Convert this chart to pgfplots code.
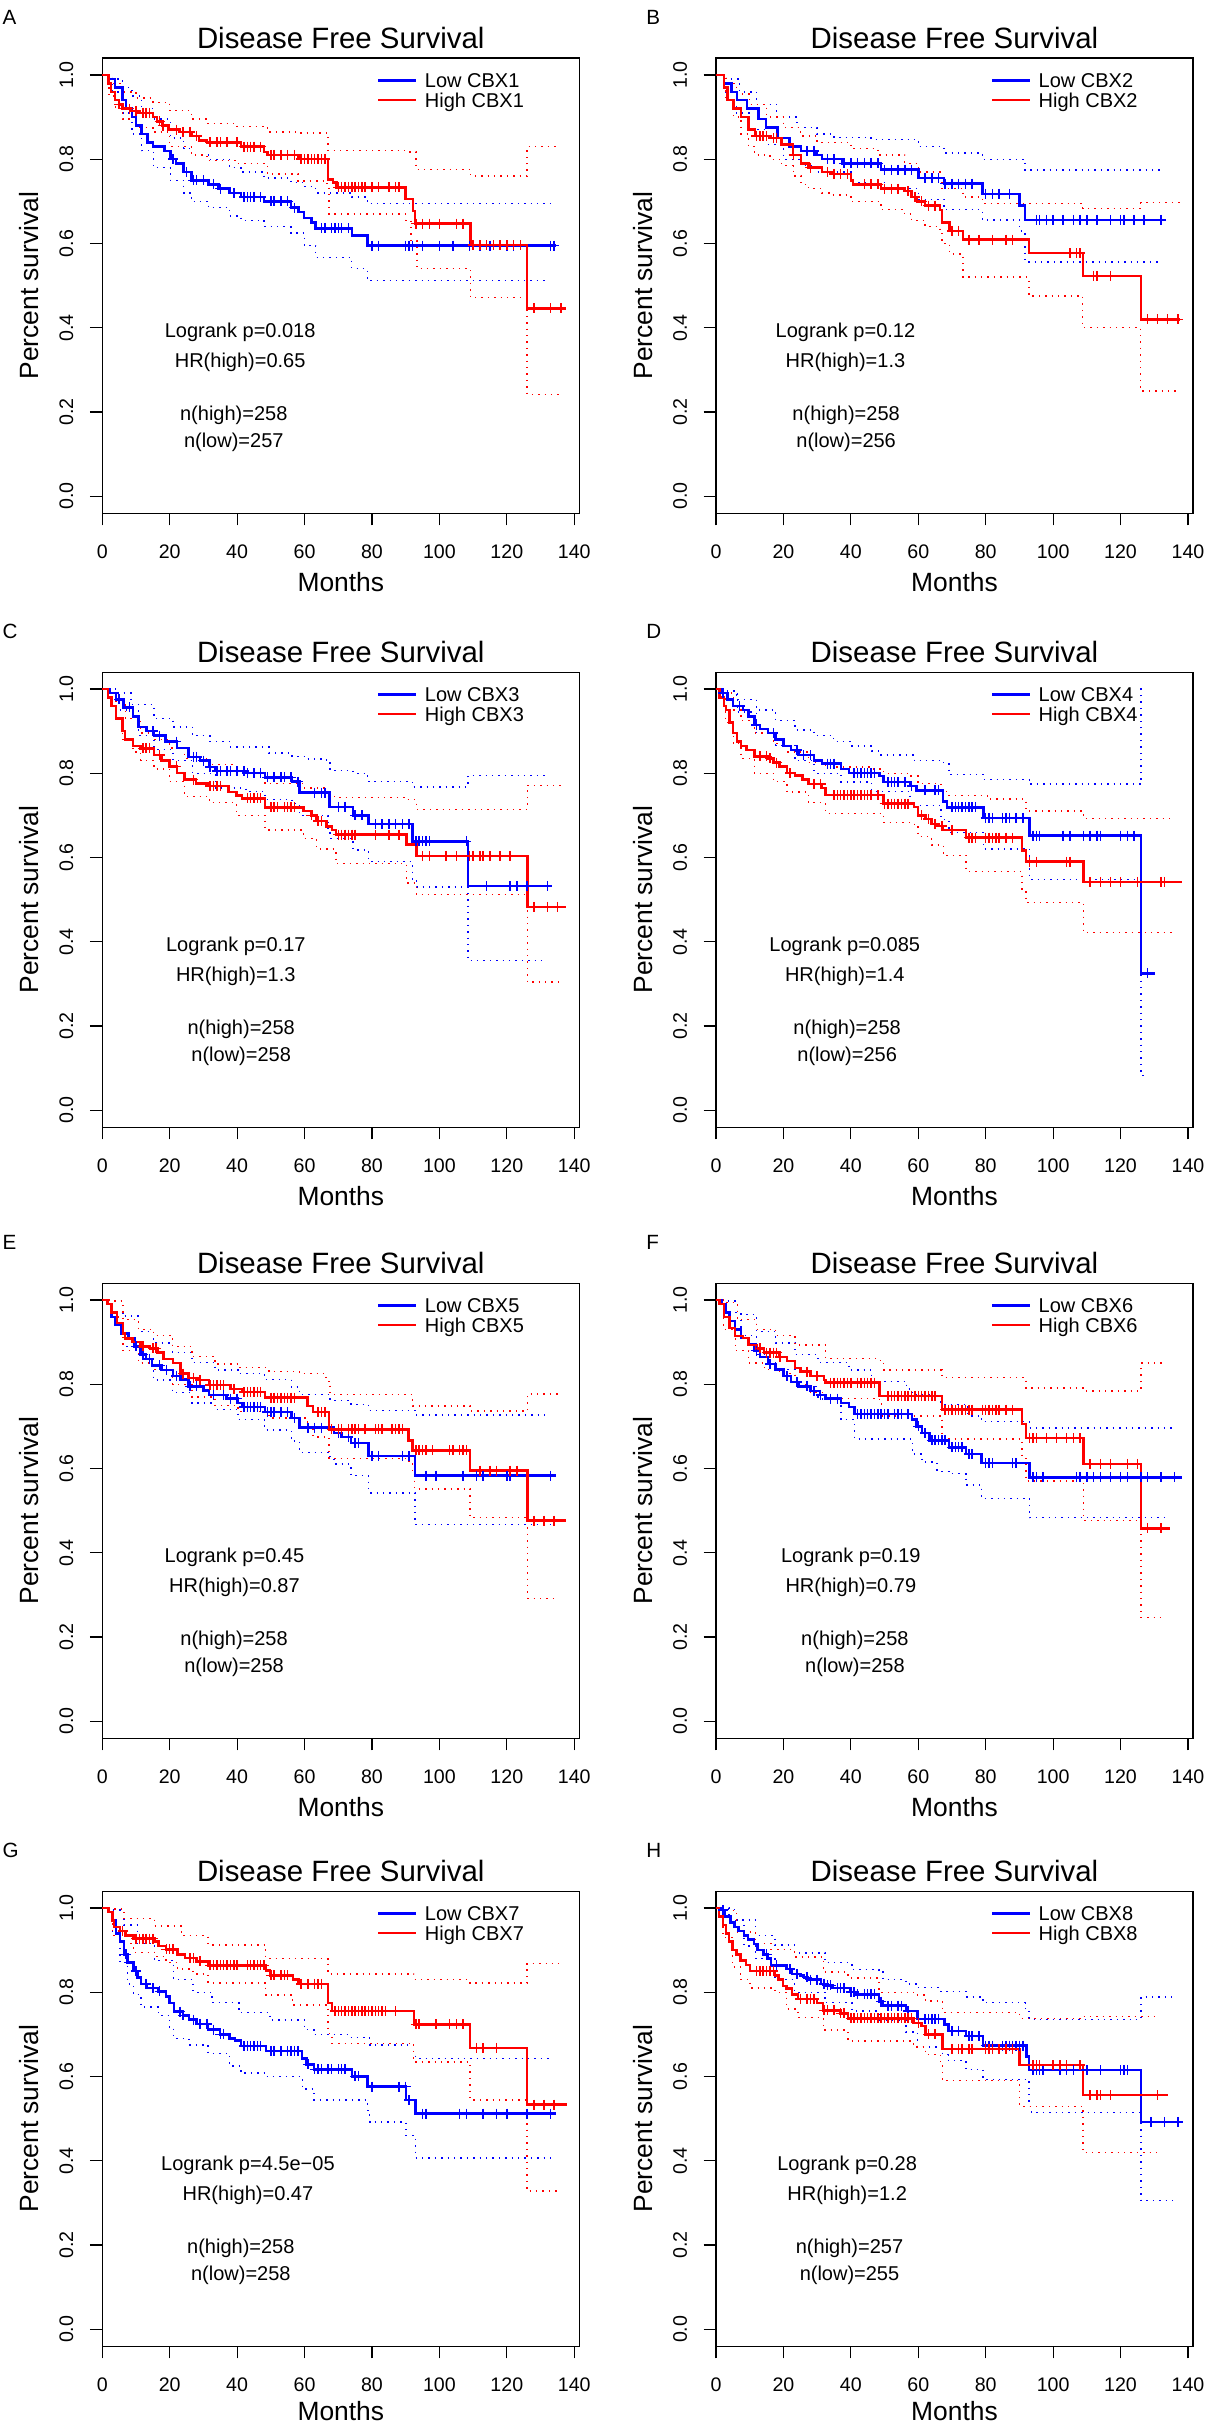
\documentclass[border=0pt]{standalone}
\usepackage{fontspec}
\setmainfont{Liberation Sans}
\usepackage{pgfplots}
\pgfplotsset{compat=1.18}
\newcommand{\fTick}{\fontsize{9.8}{11}\selectfont}
\newcommand{\fLab}{\fontsize{13.2}{15}\selectfont}
\newcommand{\fTitle}{\fontsize{14.7}{17}\selectfont}
\newcommand{\fTxt}{\fontsize{10}{12}\selectfont}
\newcommand{\fLet}{\fontsize{10.3}{12}\selectfont}
\pgfplotsset{
 km/.style={
  scale only axis, width=238.5pt, height=227.5pt,
  xmin=0, xmax=141.5, ymin=-0.04, ymax=1.04,
  anchor=north west, clip=false,
  axis line style={line width=0.6pt, black},
  xtick={0,20,40,60,80,100,120,140},
  xticklabels={0,20,40,60,80,100,120,140},
  ytick={0,0.2,0.4,0.6,0.8,1},
  yticklabels={0.0,0.2,0.4,0.6,0.8,1.0},
  tick pos=left, tick align=outside, major tick length=6.15pt,
  every tick/.style={black, line width=0.6pt},
  /pgf/number format/assume math mode=true,
  xticklabel style={font=\fTick, anchor=base, inner sep=0pt, yshift=-16.4pt},
  yticklabel style={font=\fTick, xshift=-8.1pt, rotate=90, anchor=south, inner sep=0pt},
  xlabel={Months}, ylabel={Percent survival},
  every axis x label/.style={at={(rel axis cs:0.5,0)}, anchor=base, yshift=-39.4pt, font=\fLab, inner sep=0pt},
  every axis y label/.style={at={(rel axis cs:0,0.5)}, xshift=-31.9pt, rotate=90, anchor=base, font=\fLab, inner sep=0pt},
 },
 bottomrow/.style={xlabel style={yshift=2.2pt}},
 cb/.style={blue, line width=1.25pt, const plot, mark=none},
 cr/.style={red, line width=1.25pt, const plot, mark=none},
 ciB/.style={blue, line width=0.7pt, const plot, mark=none, dash pattern=on 0.7pt off 2.5pt},
 ciR/.style={red, line width=0.7pt, const plot, mark=none, dash pattern=on 0.7pt off 2.5pt},
 cenB/.style={blue, only marks, mark=+, mark size=2.5pt, mark options={line width=0.75pt, solid}},
 cenR/.style={red, only marks, mark=+, mark size=2.5pt, mark options={line width=0.75pt, solid}},
}
\newcommand{\kmdeco}[9]{%
 \node[font=\fTitle, anchor=base, inner sep=0pt, yshift=4.8pt] at (rel axis cs:0.5,1) {Disease Free Survival};
 \node[font=\fLet, anchor=north west, inner sep=0pt, xshift=#2, yshift=24pt] at (rel axis cs:0,1) {#1};
 \draw[blue, line width=1.25pt] (axis cs:81.9,0.987) -- (axis cs:93.1,0.987);
 \draw[red, line width=1.25pt] (axis cs:81.9,0.941) -- (axis cs:93.1,0.941);
 \node[font=\fTxt, anchor=base west, inner sep=0pt, yshift=-3.6pt] at (axis cs:95.6,0.987) {Low #3};
 \node[font=\fTxt, anchor=base west, inner sep=0pt, yshift=-3.6pt] at (axis cs:95.6,0.941) {High #3};
 \node[font=\fTxt, anchor=base, inner sep=0pt, yshift=-3.6pt] at (axis cs:#8,0.393) {Logrank p=#4};
 \node[font=\fTxt, anchor=base, inner sep=0pt, yshift=-3.6pt] at (axis cs:#8,0.322) {HR(high)=#5};
 \node[font=\fTxt, anchor=base, inner sep=0pt, yshift=-3.6pt] at (axis cs:#9,0.196) {n(high)=#6};
 \node[font=\fTxt, anchor=base, inner sep=0pt, yshift=-3.6pt] at (axis cs:#9,0.133) {n(low)=#7};
}
\begin{document}
\begin{tikzpicture}
\useasboundingbox (0,0) rectangle (602.5pt,-1212pt);
% ---------------- A ----------------
\begin{axis}[km, at={(51.15pt,-29.05pt)}]
\addplot[ciB] coordinates {(0,1)(3,0.99)(6,0.97)(8.8,0.95)(11.7,0.92)(15.1,0.895)(20.2,0.85)(24.1,0.825)(26.4,0.81)(31.5,0.80)(37.8,0.78)(41.2,0.77)(48,0.755)(56,0.745)(59.9,0.735)(63.3,0.72)(74,0.71)(78.6,0.695)(133,0.695)};
\addplot[ciB] coordinates {(0,1)(3,0.96)(6,0.91)(8.8,0.86)(11.7,0.82)(15.1,0.78)(20.2,0.75)(24.1,0.72)(26.4,0.70)(31.5,0.685)(37.8,0.665)(41.2,0.655)(48,0.64)(56,0.625)(59.9,0.595)(63.3,0.567)(74,0.54)(78.6,0.512)(131.9,0.512)};
\addplot[ciR] coordinates {(0,1)(3,0.98)(6,0.96)(10,0.945)(15,0.935)(20,0.915)(26.4,0.895)(31,0.885)(40,0.878)(49,0.865)(58,0.862)(67,0.82)(90,0.817)(93,0.776)(109.2,0.76)(126,0.83)(134.7,0.83)};
\addplot[ciR] coordinates {(0,1)(2,0.95)(4,0.92)(6,0.895)(10,0.875)(15,0.865)(20,0.83)(26.4,0.81)(31,0.797)(40,0.79)(49,0.765)(58,0.748)(66.7,0.742)(67.2,0.67)(90,0.655)(91.6,0.607)(93.3,0.54)(109.2,0.472)(126,0.242)(135.8,0.242)};
\addplot[cb] coordinates {(0,1)(1.8,0.99)(3.7,0.97)(6,0.94)(7.1,0.92)(8.8,0.90)(10,0.88)(11.7,0.86)(13.4,0.84)(15.1,0.83)(18.5,0.82)(20.2,0.80)(21.9,0.79)(24.1,0.77)(26.4,0.75)(31.5,0.74)(34.4,0.73)(37.8,0.72)(41.2,0.71)(48,0.70)(56,0.685)(58.2,0.675)(59.9,0.66)(62.1,0.65)(63.3,0.636)(74,0.619)(78.6,0.595)(134.7,0.595)};
\addplot[cenB] coordinates {(21,0.80)(25,0.77)(27,0.75)(28,0.75)(30,0.75)(33,0.74)(35,0.73)(39,0.72)(42,0.71)(43,0.71)(44,0.71)(45,0.71)(47,0.71)(50,0.70)(51,0.70)(53,0.70)(55,0.70)(57,0.685)(65,0.636)(66,0.636)(68,0.636)(69,0.636)(70,0.636)(71,0.636)(73,0.636)(80,0.595)(82,0.595)(90,0.595)(91,0.595)(92,0.595)(95,0.595)(100,0.595)(104,0.595)(109,0.595)(112,0.595)(115,0.595)(120,0.595)(122,0.595)(133,0.595)(134,0.595)};
\addplot[cr] coordinates {(0,1)(1.8,0.98)(2.6,0.96)(3.7,0.94)(4.9,0.93)(6,0.92)(8.3,0.915)(10.5,0.91)(15.1,0.90)(16.2,0.89)(17.9,0.88)(19.6,0.87)(23,0.865)(26.4,0.855)(28.7,0.845)(31,0.84)(41.2,0.83)(48,0.817)(49,0.81)(58.2,0.80)(67,0.752)(68.4,0.745)(69.5,0.733)(90,0.705)(92.2,0.677)(92.7,0.647)(109.2,0.596)(126,0.446)(137.5,0.446)};
\addplot[cenR] coordinates {(5,0.93)(8,0.92)(10,0.915)(12,0.91)(13,0.91)(14,0.91)(17,0.89)(18,0.88)(22,0.87)(24,0.865)(26,0.865)(28,0.855)(32,0.84)(34,0.84)(35,0.84)(37,0.84)(40,0.84)(42,0.83)(43,0.83)(44,0.83)(45,0.83)(47,0.83)(50,0.81)(51,0.81)(53,0.81)(55,0.81)(57,0.81)(59,0.80)(60,0.80)(61,0.80)(62,0.80)(63,0.80)(64,0.80)(65,0.80)(66,0.80)(70,0.733)(71,0.733)(72,0.733)(73,0.733)(74,0.733)(75,0.733)(76,0.733)(77,0.733)(78,0.733)(80,0.733)(82,0.733)(85,0.733)(87,0.733)(88,0.733)(93,0.647)(95,0.647)(97,0.647)(100,0.647)(105,0.647)(107,0.647)(110,0.596)(112,0.596)(114,0.596)(116,0.596)(118,0.596)(120,0.596)(122,0.596)(124,0.596)(128,0.446)(133,0.446)(136,0.446)};
\kmdeco{A}{-50pt}{CBX1}{0.018}{0.65}{258}{257}{40.9}{39}
\end{axis}
% ---------------- B ----------------
\begin{axis}[km, at={(358pt,-29.05pt)}]
\addplot[ciB] coordinates {(0,1)(3,0.99)(7,0.96)(12,0.93)(18,0.90)(24,0.875)(30,0.86)(35,0.852)(46,0.847)(60,0.83)(67.6,0.815)(79,0.80)(91.6,0.774)(132.3,0.774)};
\addplot[ciB] coordinates {(0,1)(3,0.96)(6,0.91)(10,0.87)(15,0.835)(20,0.80)(25,0.785)(30,0.77)(40,0.745)(50,0.73)(60,0.705)(67.6,0.68)(79,0.656)(90,0.63)(91.6,0.556)(132.3,0.556)};
\addplot[ciR] coordinates {(0,1)(3,0.98)(6,0.955)(10,0.93)(15,0.90)(20,0.875)(25,0.855)(30,0.84)(40,0.825)(48,0.81)(56,0.79)(60,0.77)(66.4,0.75)(67,0.73)(73.3,0.71)(79,0.695)(108.8,0.683)(126,0.697)(137.5,0.697)};
\addplot[ciR] coordinates {(0,1)(3,0.94)(5.2,0.90)(7.4,0.86)(9.7,0.83)(11.5,0.81)(16,0.80)(19.5,0.785)(22.9,0.76)(25.2,0.74)(27.5,0.73)(31.5,0.72)(34.4,0.715)(40,0.70)(49,0.68)(56,0.67)(58,0.655)(62,0.64)(66.4,0.625)(67,0.60)(69.3,0.575)(73.3,0.52)(92.8,0.475)(108.8,0.40)(126,0.25)(137,0.25)};
\addplot[cb] coordinates {(0,1)(2.3,0.98)(4.6,0.96)(6.3,0.94)(9.2,0.92)(12.6,0.895)(14.9,0.875)(18.3,0.85)(21.8,0.83)(25.2,0.82)(29.8,0.81)(31.5,0.80)(37.5,0.79)(49,0.775)(60,0.755)(67.6,0.742)(79,0.718)(90,0.69)(91.6,0.656)(132.3,0.656)};
\addplot[cenB] coordinates {(27,0.82)(29,0.82)(33,0.80)(35,0.80)(38,0.79)(40,0.79)(42,0.79)(44,0.79)(46,0.79)(48,0.79)(50,0.775)(52,0.775)(54,0.775)(56,0.775)(58,0.775)(62,0.755)(64,0.755)(66,0.755)(68,0.742)(70,0.742)(72,0.742)(74,0.742)(76,0.742)(80,0.718)(82,0.718)(84,0.718)(87,0.718)(95,0.656)(96,0.656)(98,0.656)(100,0.656)(103,0.656)(106,0.656)(108,0.656)(110,0.656)(113,0.656)(117,0.656)(120,0.656)(121,0.656)(124,0.656)(127,0.656)(132,0.656)};
\addplot[cr] coordinates {(0,1)(2.3,0.97)(3.4,0.94)(5.2,0.92)(7.4,0.90)(9.7,0.87)(11.5,0.855)(16,0.85)(19.5,0.835)(22.9,0.81)(25.2,0.79)(27.5,0.78)(31.5,0.77)(34.4,0.765)(40,0.75)(40.7,0.74)(49,0.73)(56,0.725)(58,0.71)(59.6,0.70)(62,0.69)(66.4,0.68)(67,0.65)(69.3,0.63)(73.3,0.609)(92.8,0.577)(108.8,0.523)(126,0.42)(137.5,0.42)};
\addplot[cenR] coordinates {(12,0.855)(13,0.855)(14,0.855)(15,0.855)(17,0.85)(18,0.85)(23,0.81)(28,0.78)(33,0.77)(35,0.765)(37,0.765)(39,0.765)(44,0.74)(46,0.74)(48,0.74)(50,0.73)(52,0.73)(54,0.73)(57,0.725)(59,0.71)(61,0.70)(63,0.69)(65,0.69)(70,0.63)(72,0.63)(75,0.609)(78,0.609)(82,0.609)(86,0.609)(88,0.609)(105,0.577)(107,0.577)(108,0.577)(112,0.523)(113,0.523)(117,0.523)(128,0.42)(131,0.42)(134,0.42)(137,0.42)};
\kmdeco{B}{-35pt}{CBX2}{0.12}{1.3}{258}{256}{38.4}{38.6}
\end{axis}
% ---------------- C ----------------
\begin{axis}[km, at={(51.15pt,-336.05pt)}]
\addplot[ciB] coordinates {(0,1)(4,0.99)(8.5,0.963)(15.3,0.93)(21,0.91)(26.7,0.889)(32,0.875)(38,0.862)(49.4,0.848)(56.3,0.84)(60.8,0.834)(66.5,0.825)(67.6,0.806)(74.4,0.80)(78.4,0.793)(79,0.78)(92,0.767)(108.5,0.794)(131.3,0.794)};
\addplot[ciB] coordinates {(0,1)(4,0.95)(10.8,0.89)(15.3,0.857)(21,0.83)(26.7,0.80)(33.5,0.765)(42.6,0.756)(48.3,0.737)(56.3,0.728)(58.5,0.70)(67,0.664)(67.6,0.645)(74.4,0.618)(79,0.59)(92,0.548)(93.2,0.53)(108.5,0.355)(131.8,0.355)};
\addplot[ciR] coordinates {(0,1)(2.8,0.99)(4,0.97)(6.8,0.93)(11.4,0.895)(15.3,0.88)(19.9,0.86)(24.4,0.835)(31.8,0.82)(39.8,0.80)(48.3,0.775)(59.7,0.765)(66.5,0.745)(69.3,0.742)(90.3,0.737)(93.2,0.714)(126.1,0.771)(136.4,0.771)};
\addplot[ciR] coordinates {(0,1)(2.8,0.955)(4,0.93)(6,0.88)(9.1,0.85)(11.4,0.83)(15.3,0.81)(19.9,0.78)(24.4,0.745)(31.8,0.73)(39.8,0.70)(48.3,0.665)(59.7,0.645)(63.6,0.62)(69.3,0.585)(90.3,0.539)(93.2,0.512)(126.1,0.304)(135.2,0.304)};
\addplot[cb] coordinates {(0,1)(2.3,0.99)(4,0.975)(6.3,0.956)(9.1,0.935)(10.8,0.91)(13.1,0.90)(15.3,0.889)(18.8,0.875)(22.2,0.86)(25.6,0.839)(29,0.83)(31.8,0.815)(33.5,0.805)(42.6,0.80)(48.3,0.79)(56.3,0.78)(58.5,0.754)(67.4,0.72)(74.4,0.70)(79,0.679)(92,0.638)(108.5,0.532)(133.5,0.532)};
\addplot[cenB] coordinates {(5,0.975)(8,0.956)(15,0.90)(17,0.889)(22,0.875)(27,0.839)(28,0.839)(30,0.83)(32,0.815)(34,0.805)(35,0.805)(37,0.805)(38,0.805)(40,0.805)(42,0.805)(43,0.80)(45,0.80)(47,0.80)(49,0.79)(51,0.79)(53,0.79)(54,0.79)(56,0.79)(58,0.78)(63,0.754)(65,0.754)(66,0.754)(70,0.72)(72,0.72)(75,0.70)(77,0.70)(81,0.679)(83,0.679)(85,0.679)(87,0.679)(89,0.679)(91,0.679)(93,0.638)(94,0.638)(95,0.638)(96,0.638)(97,0.638)(108,0.638)(114,0.532)(121,0.532)(123,0.532)(126,0.532)(132,0.532)};
\addplot[cr] coordinates {(0,1)(1.7,0.98)(2.8,0.96)(4,0.93)(6,0.90)(6.8,0.88)(9.1,0.865)(11.4,0.859)(15.3,0.843)(17.6,0.83)(19.9,0.816)(22.2,0.80)(24.4,0.785)(27.8,0.776)(31.8,0.77)(37.5,0.756)(39.8,0.747)(41.5,0.74)(48.3,0.719)(59.7,0.71)(62,0.70)(63.6,0.687)(66.5,0.673)(68.2,0.665)(69.3,0.654)(90.3,0.631)(93.2,0.604)(126.1,0.483)(137.5,0.483)};
\addplot[cenR] coordinates {(12,0.859)(13,0.859)(14,0.859)(17,0.843)(22,0.816)(27,0.785)(32,0.77)(33,0.77)(34,0.77)(35,0.77)(43,0.74)(44,0.74)(45,0.74)(46,0.74)(47,0.74)(50,0.719)(51,0.719)(52,0.719)(54,0.719)(55,0.719)(56,0.719)(57,0.719)(62,0.70)(64,0.687)(65,0.687)(70,0.654)(71,0.654)(72,0.654)(73,0.654)(74,0.654)(75,0.654)(81,0.654)(85,0.654)(88,0.654)(95,0.604)(97,0.604)(102,0.604)(105,0.604)(109,0.604)(110,0.604)(112,0.604)(113,0.604)(115,0.604)(118,0.604)(121,0.604)(128,0.483)(132,0.483)(135,0.483)};
\kmdeco{C}{-50pt}{CBX3}{0.17}{1.3}{258}{258}{39.6}{41.2}
\end{axis}
% ---------------- D ----------------
\begin{axis}[km, at={(358pt,-336.05pt)}]
\addplot[ciB] coordinates {(0,1)(2.9,0.995)(6,0.975)(12,0.95)(17.7,0.925)(23.4,0.903)(29.1,0.89)(34.8,0.876)(40,0.865)(46.2,0.853)(48.5,0.843)(58.8,0.83)(66.8,0.825)(69.1,0.797)(79.3,0.785)(93,0.774)(126.1,1.0)(127.3,1.0)};
\addplot[ciB] coordinates {(0,1)(1.7,0.99)(6.3,0.945)(12,0.894)(17.7,0.866)(23.4,0.83)(29.1,0.80)(37.1,0.779)(46.2,0.756)(57.6,0.724)(66.8,0.69)(69.1,0.66)(79.3,0.62)(93,0.548)(126.1,0.083)(127.9,0.083)};
\addplot[ciR] coordinates {(0,1)(2.9,0.99)(5.1,0.95)(7.4,0.925)(11.4,0.895)(17.1,0.87)(21.1,0.85)(27.4,0.825)(32.5,0.815)(46.2,0.81)(49.7,0.80)(57.6,0.793)(59.9,0.775)(66.8,0.756)(69.1,0.747)(80.5,0.739)(91.9,0.71)(109,0.693)(135.8,0.693)};
\addplot[ciR] coordinates {(0,1)(2.9,0.92)(5.1,0.87)(7.4,0.835)(11.4,0.80)(17.1,0.78)(21.1,0.755)(27.4,0.73)(32.5,0.705)(49.7,0.683)(58.8,0.672)(59.9,0.65)(63.9,0.63)(67.4,0.605)(74.2,0.567)(90.8,0.525)(91.9,0.493)(109,0.422)(135.3,0.422)};
\addplot[cb] coordinates {(0,1)(1.7,0.99)(3.4,0.975)(5.1,0.96)(8,0.95)(9.7,0.935)(11.4,0.915)(13.1,0.905)(15.4,0.895)(17.7,0.88)(20,0.865)(22.3,0.855)(24.5,0.843)(29.1,0.83)(31.4,0.823)(37.1,0.81)(39.4,0.80)(48.5,0.793)(49.7,0.779)(57.6,0.77)(59.4,0.759)(67.4,0.733)(68.5,0.719)(79.3,0.694)(93,0.652)(126.1,0.325)(130.1,0.325)};
\addplot[cenB] coordinates {(2,0.99)(7,0.96)(12,0.915)(17,0.895)(24,0.855)(26,0.843)(28,0.843)(33,0.823)(34,0.823)(35,0.823)(41,0.80)(42,0.80)(43,0.80)(44,0.80)(45,0.80)(46,0.80)(47,0.80)(51,0.779)(52,0.779)(53,0.779)(54,0.779)(56,0.779)(58,0.77)(62,0.759)(65,0.759)(66,0.759)(70,0.719)(71,0.719)(72,0.719)(73,0.719)(74,0.719)(75,0.719)(76,0.719)(77,0.719)(80,0.694)(81,0.694)(82,0.694)(85,0.694)(86,0.694)(87,0.694)(89,0.694)(91,0.694)(94,0.652)(95,0.652)(96,0.652)(103,0.652)(105,0.652)(109,0.652)(111,0.652)(113,0.652)(114,0.652)(120,0.652)(122,0.652)(124,0.652)(128,0.325)};
\addplot[cr] coordinates {(0,1)(1.1,0.98)(2.3,0.96)(2.9,0.95)(4,0.92)(5.1,0.895)(6.3,0.875)(7.4,0.865)(9.1,0.855)(11.4,0.84)(15.4,0.835)(17.1,0.825)(18.8,0.816)(21.1,0.80)(23.4,0.795)(25.7,0.785)(27.4,0.774)(31.4,0.765)(32.5,0.748)(49.7,0.728)(58.8,0.72)(59.9,0.70)(62.2,0.691)(63.9,0.68)(65.6,0.675)(67.4,0.665)(74.2,0.647)(90.8,0.616)(91.9,0.59)(109,0.542)(138.1,0.542)};
\addplot[cenR] coordinates {(13,0.84)(15,0.84)(16,0.835)(18,0.825)(22,0.80)(29,0.774)(31,0.774)(35,0.748)(36,0.748)(37,0.748)(38,0.748)(39,0.748)(40,0.748)(41,0.748)(42,0.748)(43,0.748)(44,0.748)(45,0.748)(46,0.748)(48,0.748)(50,0.728)(51,0.728)(52,0.728)(53,0.728)(54,0.728)(55,0.728)(56,0.728)(57,0.728)(61,0.70)(63,0.691)(65,0.68)(67,0.675)(70,0.665)(75,0.647)(76,0.647)(77,0.647)(80,0.647)(81,0.647)(82,0.647)(83,0.647)(84,0.647)(86,0.647)(88,0.647)(93,0.59)(95,0.59)(104,0.59)(105,0.59)(111,0.542)(114,0.542)(117,0.542)(120,0.542)(125,0.542)(132,0.542)(133,0.542)};
\kmdeco{D}{-35pt}{CBX4}{0.085}{1.4}{258}{256}{38.2}{38.9}
\end{axis}
% ---------------- E ----------------
\begin{axis}[km, at={(51.15pt,-641.55pt)}]
\addplot[ciB] coordinates {(0,1)(1.6,0.998)(6.1,0.962)(10.7,0.925)(15.2,0.898)(20.9,0.875)(26.6,0.852)(33.4,0.834)(40.3,0.825)(48.2,0.811)(56.1,0.793)(58.5,0.775)(67.6,0.761)(73.8,0.752)(79,0.738)(92.8,0.727)(131.3,0.727)};
\addplot[ciB] coordinates {(0,1)(2.7,0.97)(6.1,0.89)(10.7,0.85)(15.2,0.81)(20.9,0.78)(26.6,0.755)(33.4,0.74)(40.3,0.716)(48.2,0.691)(56.1,0.665)(58.5,0.638)(67.6,0.624)(68.7,0.611)(73.8,0.583)(79,0.542)(92.8,0.467)(133.6,0.467)};
\addplot[ciR] coordinates {(0,1)(1.6,0.998)(6.1,0.953)(10.7,0.93)(15.2,0.916)(20.9,0.889)(26.6,0.866)(33.4,0.848)(40.3,0.839)(49.4,0.83)(58.5,0.825)(66.4,0.807)(67.6,0.775)(92,0.748)(109.1,0.736)(126.2,0.777)(135.8,0.777)};
\addplot[ciR] coordinates {(0,1)(2.7,0.96)(6.1,0.88)(10.7,0.85)(15.2,0.835)(20.9,0.80)(26.6,0.77)(33.4,0.75)(40.3,0.735)(49.4,0.72)(60.8,0.697)(62.5,0.675)(67.3,0.624)(90.9,0.617)(92,0.585)(92.6,0.551)(109.1,0.483)(126.2,0.292)(134.1,0.292)};
\addplot[cb] coordinates {(0,1)(1.6,0.99)(2.7,0.96)(3.9,0.94)(5.6,0.92)(7.8,0.91)(9.6,0.89)(11.3,0.87)(13,0.86)(14.7,0.845)(17.5,0.834)(20.9,0.82)(23.2,0.811)(25.5,0.795)(30,0.785)(31.7,0.775)(36.9,0.766)(40.3,0.755)(41.4,0.746)(48.2,0.734)(56.1,0.72)(58.5,0.697)(68.7,0.684)(71,0.675)(73.8,0.661)(79,0.63)(92.8,0.583)(134.7,0.583)};
\addplot[cenB] coordinates {(10,0.89)(12,0.87)(14,0.86)(17,0.845)(19,0.834)(22,0.82)(26,0.795)(28,0.795)(33,0.775)(36,0.775)(38,0.766)(40,0.766)(42,0.746)(43,0.746)(44,0.746)(45,0.746)(46,0.746)(47,0.746)(49,0.734)(50,0.734)(51,0.734)(53,0.734)(55,0.734)(57,0.72)(61,0.697)(63,0.697)(65,0.697)(70,0.684)(73,0.675)(75,0.661)(76,0.661)(80,0.63)(82,0.63)(89,0.63)(91,0.63)(96,0.583)(99,0.583)(107,0.583)(111,0.583)(113,0.583)(120,0.583)(121,0.583)(133,0.583)};
\addplot[cr] coordinates {(0,1)(1.6,0.99)(2.7,0.97)(4.4,0.945)(6.1,0.92)(6.7,0.909)(9,0.90)(11.3,0.89)(14.1,0.885)(16.4,0.875)(18.1,0.86)(20.9,0.85)(23.2,0.825)(25.5,0.815)(28.9,0.81)(31.7,0.798)(38,0.789)(41.4,0.782)(48.2,0.768)(60.8,0.748)(62.5,0.734)(67.3,0.693)(90.9,0.667)(92,0.643)(109.1,0.595)(126.2,0.476)(137.5,0.476)};
\addplot[cenR] coordinates {(12,0.89)(15,0.885)(16,0.885)(24,0.825)(27,0.815)(29,0.81)(32,0.798)(33,0.798)(34,0.798)(35,0.798)(36,0.798)(39,0.789)(42,0.782)(43,0.782)(44,0.782)(45,0.782)(46,0.782)(47,0.782)(50,0.768)(51,0.768)(52,0.768)(53,0.768)(54,0.768)(55,0.768)(56,0.768)(57,0.768)(64,0.734)(65,0.734)(66,0.734)(68,0.693)(70,0.693)(71,0.693)(73,0.693)(74,0.693)(75,0.693)(76,0.693)(78,0.693)(81,0.693)(82,0.693)(83,0.693)(86,0.693)(87,0.693)(88,0.693)(89,0.693)(93,0.643)(94,0.643)(95,0.643)(96,0.643)(98,0.643)(103,0.643)(104,0.643)(106,0.643)(107,0.643)(108,0.643)(112,0.595)(115,0.595)(117,0.595)(121,0.595)(123,0.595)(128,0.476)(131,0.476)(134,0.476)};
\kmdeco{E}{-50pt}{CBX5}{0.45}{0.87}{258}{258}{39.2}{39.1}
\end{axis}
% ---------------- F ----------------
\begin{axis}[km, at={(358pt,-641.55pt)}]
\addplot[ciB] coordinates {(0,1)(1.7,0.998)(6.3,0.966)(12,0.925)(17.7,0.898)(23.4,0.87)(30.3,0.852)(39.4,0.834)(46.2,0.807)(56.5,0.789)(58.2,0.775)(66.8,0.752)(74.8,0.725)(78.8,0.711)(93,0.696)(135.3,0.696)};
\addplot[ciB] coordinates {(0,1)(2.9,0.97)(7.4,0.916)(12,0.87)(17.7,0.835)(23.4,0.795)(30.3,0.765)(37.1,0.716)(41.1,0.67)(58.2,0.634)(61.1,0.615)(65.6,0.593)(69.1,0.588)(74.2,0.561)(78.8,0.529)(93,0.483)(134.7,0.483)};
\addplot[ciR] coordinates {(0,1)(1.7,0.994)(6.3,0.953)(12,0.93)(17.7,0.916)(23.4,0.893)(32.5,0.861)(48.5,0.857)(49.7,0.834)(67,0.816)(91.9,0.791)(109,0.784)(126.1,0.85)(132.4,0.85)};
\addplot[ciR] coordinates {(0,1)(2.3,0.93)(5.7,0.88)(9.7,0.85)(14.3,0.835)(18.8,0.825)(23.4,0.80)(28,0.78)(32.5,0.766)(48.5,0.761)(49.1,0.725)(67,0.67)(90.8,0.624)(91.9,0.57)(109,0.477)(126.1,0.246)(133,0.246)};
\addplot[cb] coordinates {(0,1)(1.7,0.99)(2.9,0.97)(4,0.95)(5.7,0.93)(7.4,0.91)(9.7,0.895)(11.4,0.88)(13.1,0.865)(15.4,0.848)(17.7,0.835)(20,0.82)(22.3,0.805)(24.5,0.795)(28,0.784)(30.8,0.775)(32.5,0.766)(37.1,0.755)(39.4,0.746)(41.1,0.729)(58.2,0.716)(59.4,0.70)(61.1,0.684)(63.4,0.667)(69.1,0.65)(74.2,0.634)(78.8,0.613)(93,0.579)(138.1,0.579)};
\addplot[cenB] coordinates {(12,0.88)(16,0.848)(21,0.82)(24,0.805)(27,0.795)(29,0.784)(31,0.775)(34,0.766)(36,0.766)(42,0.729)(43,0.729)(44,0.729)(45,0.729)(46,0.729)(47,0.729)(48,0.729)(49,0.729)(50,0.729)(51,0.729)(53,0.729)(54,0.729)(55,0.729)(57,0.729)(60,0.70)(62,0.684)(64,0.667)(65,0.667)(66,0.667)(67,0.667)(68,0.667)(70,0.65)(71,0.65)(72,0.65)(73,0.65)(75,0.634)(76,0.634)(80,0.613)(81,0.613)(82,0.613)(88,0.613)(89,0.613)(94,0.579)(95,0.579)(97,0.579)(107,0.579)(108,0.579)(110,0.579)(112,0.579)(114,0.579)(117,0.579)(120,0.579)(122,0.579)(126,0.579)(128,0.579)(132,0.579)(136,0.579)};
\addplot[cr] coordinates {(0,1)(1.1,0.99)(2.3,0.96)(4,0.934)(5.7,0.915)(8,0.91)(9.7,0.893)(12,0.885)(14.3,0.875)(18.8,0.865)(21.1,0.855)(23.4,0.839)(25.1,0.83)(28,0.82)(32,0.81)(32.5,0.804)(48.5,0.772)(67,0.74)(90.8,0.706)(91.9,0.672)(109,0.611)(126.1,0.458)(134.7,0.458)};
\addplot[cenR] coordinates {(13,0.885)(15,0.875)(16,0.875)(17,0.875)(18,0.875)(19,0.865)(27,0.83)(30,0.82)(34,0.804)(35,0.804)(36,0.804)(37,0.804)(38,0.804)(39,0.804)(40,0.804)(42,0.804)(43,0.804)(44,0.804)(45,0.804)(46,0.804)(47,0.804)(51,0.772)(52,0.772)(53,0.772)(54,0.772)(55,0.772)(56,0.772)(57,0.772)(58,0.772)(59,0.772)(60,0.772)(61,0.772)(62,0.772)(63,0.772)(64,0.772)(65,0.772)(68,0.74)(69,0.74)(70,0.74)(71,0.74)(72,0.74)(73,0.74)(74,0.74)(75,0.74)(76,0.74)(79,0.74)(80,0.74)(81,0.74)(82,0.74)(83,0.74)(84,0.74)(86,0.74)(88,0.74)(93,0.672)(94,0.672)(95,0.672)(98,0.672)(101,0.672)(104,0.672)(106,0.672)(108,0.672)(111,0.611)(114,0.611)(117,0.611)(122,0.611)(125,0.611)(128,0.458)(132,0.458)};
\kmdeco{F}{-35pt}{CBX6}{0.19}{0.79}{258}{258}{40}{41.2}
\end{axis}
% ---------------- G ----------------
\begin{axis}[km, bottomrow, at={(51.15pt,-945.55pt)}]
\addplot[ciB] coordinates {(0,1)(3,0.995)(6.4,0.96)(10.4,0.915)(15.5,0.875)(21.2,0.83)(26.9,0.80)(32.6,0.775)(40.5,0.752)(49.7,0.734)(60,0.711)(62.8,0.699)(73.5,0.693)(79.3,0.675)(92.4,0.652)(92.9,0.643)(132.8,0.643)};
\addplot[ciB] coordinates {(0,1)(3,0.945)(5.2,0.87)(7.5,0.82)(9.2,0.795)(11.5,0.765)(16.6,0.745)(20,0.715)(21.2,0.69)(25.7,0.675)(31.4,0.655)(37.7,0.625)(41.1,0.608)(48.5,0.60)(59.3,0.57)(62.8,0.544)(74.1,0.544)(78.7,0.52)(79.3,0.492)(90.1,0.46)(92.9,0.407)(133.4,0.407)};
\addplot[ciR] coordinates {(0,1)(1.8,0.998)(6.4,0.975)(15.5,0.957)(23.5,0.934)(31.4,0.912)(48.5,0.88)(67,0.843)(92.4,0.83)(109.1,0.822)(126,0.868)(135.6,0.868)};
\addplot[ciR] coordinates {(0,1)(3,0.935)(5.2,0.915)(9.2,0.895)(15.5,0.885)(18.9,0.87)(22.3,0.855)(26.9,0.843)(31.4,0.822)(48.5,0.793)(56.5,0.77)(67,0.702)(68.1,0.679)(92.4,0.634)(109.1,0.544)(126,0.328)(135.1,0.328)};
\addplot[cb] coordinates {(0,1)(1.8,0.99)(3,0.97)(4.1,0.94)(5.2,0.92)(6.4,0.89)(7.5,0.87)(9.2,0.85)(10.4,0.835)(11.5,0.82)(13.2,0.81)(16.6,0.802)(18.9,0.79)(20,0.775)(21.2,0.754)(24,0.745)(25.7,0.735)(28,0.725)(31.4,0.711)(34.9,0.70)(37.7,0.69)(39.4,0.685)(41.1,0.672)(48.5,0.661)(59.3,0.643)(60.5,0.629)(62.8,0.617)(74.1,0.60)(78.7,0.576)(90.1,0.544)(92.9,0.512)(134.5,0.512)};
\addplot[cenB] coordinates {(7,0.89)(10,0.85)(13,0.82)(15,0.81)(17,0.802)(23,0.754)(24,0.745)(27,0.735)(29,0.725)(31,0.725)(33,0.711)(35,0.70)(36,0.70)(42,0.672)(43,0.672)(44,0.672)(45,0.672)(46,0.672)(47,0.672)(50,0.661)(51,0.661)(53,0.661)(55,0.661)(56,0.661)(57,0.661)(58,0.661)(61,0.629)(63,0.617)(64,0.617)(65,0.617)(67,0.617)(68,0.617)(70,0.617)(71,0.617)(72,0.617)(75,0.60)(76,0.60)(80,0.576)(88,0.576)(90,0.576)(91,0.544)(95,0.512)(96,0.512)(106,0.512)(108,0.512)(113,0.512)(117,0.512)(120,0.512)(126,0.512)(133,0.512)};
\addplot[cr] coordinates {(0,1)(1.8,0.99)(3,0.97)(3.5,0.955)(5.2,0.945)(6.9,0.935)(9.2,0.927)(15.5,0.921)(16.6,0.91)(18.9,0.902)(22.3,0.89)(24.6,0.881)(28,0.873)(31.4,0.864)(48.5,0.852)(49.7,0.84)(56.5,0.83)(58.2,0.82)(67,0.775)(68.1,0.755)(92.4,0.724)(109.1,0.668)(126,0.533)(137.9,0.533)};
\addplot[cenR] coordinates {(6,0.945)(10,0.927)(11,0.927)(12,0.927)(13,0.927)(14,0.927)(15,0.927)(19,0.902)(20,0.902)(21,0.902)(26,0.881)(27,0.881)(29,0.873)(32,0.864)(33,0.864)(34,0.864)(35,0.864)(36,0.864)(37,0.864)(38,0.864)(39,0.864)(40,0.864)(43,0.864)(44,0.864)(45,0.864)(46,0.864)(47,0.864)(48,0.864)(50,0.84)(51,0.84)(53,0.84)(54,0.84)(55,0.84)(59,0.82)(61,0.82)(63,0.82)(64,0.82)(65,0.82)(69,0.755)(70,0.755)(71,0.755)(72,0.755)(73,0.755)(74,0.755)(75,0.755)(76,0.755)(77,0.755)(78,0.755)(79,0.755)(80,0.755)(81,0.755)(82,0.755)(83,0.755)(84,0.755)(87,0.755)(93,0.724)(94,0.724)(99,0.724)(103,0.724)(105,0.724)(107,0.724)(111,0.668)(113,0.668)(117,0.668)(128,0.533)(131,0.533)(134,0.533)};
\kmdeco{G}{-50pt}{CBX7}{4.5e−05}{0.47}{258}{258}{43.2}{41.1}
\end{axis}
% ---------------- H ----------------
\begin{axis}[km, bottomrow, at={(358pt,-945.55pt)}]
\addplot[ciB] coordinates {(0,1)(1.5,0.996)(6.1,0.971)(11.8,0.934)(17.5,0.912)(23.2,0.893)(32.3,0.87)(40.3,0.854)(48.3,0.848)(49.5,0.83)(56.3,0.82)(59.8,0.811)(66.6,0.802)(74.1,0.789)(79.2,0.775)(91.8,0.761)(92.9,0.736)(126.1,0.789)(135.2,0.789)};
\addplot[ciB] coordinates {(0,1)(3.8,0.97)(8.3,0.91)(11.8,0.88)(17.5,0.83)(23.2,0.80)(32.3,0.775)(40.3,0.755)(48.3,0.734)(56.3,0.706)(59.8,0.67)(67.2,0.652)(68.9,0.638)(74.1,0.617)(79.2,0.593)(92.9,0.529)(93.5,0.515)(126.1,0.305)(136.3,0.305)};
\addplot[ciR] coordinates {(0,1)(1.5,0.994)(6.1,0.943)(11.8,0.916)(16.3,0.902)(23.2,0.884)(31.8,0.848)(39.2,0.834)(48.3,0.80)(58.6,0.793)(62.1,0.779)(67.2,0.752)(90.1,0.738)(108.9,0.743)(131.8,0.743)};
\addplot[ciR] coordinates {(0,1)(2.1,0.93)(4.9,0.86)(7.2,0.83)(10.1,0.81)(17.5,0.80)(20.9,0.76)(24.3,0.74)(31.8,0.71)(39.2,0.684)(58.6,0.67)(62.1,0.652)(66.6,0.629)(67.2,0.59)(90.1,0.529)(108.9,0.419)(132.3,0.419)};
\addplot[cb] coordinates {(0,1)(1.5,0.995)(2.6,0.98)(4.3,0.965)(5.5,0.955)(6.6,0.945)(8.3,0.935)(9.5,0.925)(11.2,0.914)(12.3,0.90)(14.1,0.89)(15.2,0.88)(16.3,0.864)(20.9,0.855)(22.6,0.843)(24.9,0.84)(26.1,0.835)(27.2,0.83)(31.2,0.82)(32.3,0.816)(34.6,0.81)(39.8,0.80)(41.5,0.795)(48.3,0.778)(49.5,0.768)(56.3,0.755)(59.8,0.736)(67.8,0.723)(68.9,0.708)(74.1,0.696)(79.2,0.673)(92.1,0.647)(92.9,0.615)(126.1,0.492)(137.5,0.492)};
\addplot[cenB] coordinates {(2,0.995)(15,0.89)(18,0.864)(22,0.855)(24,0.843)(27,0.835)(28,0.83)(30,0.83)(32,0.82)(33,0.816)(34,0.816)(36,0.81)(37,0.81)(38,0.81)(40,0.80)(41,0.80)(42,0.795)(44,0.795)(45,0.795)(46,0.795)(47,0.795)(49,0.778)(51,0.768)(52,0.768)(54,0.768)(55,0.768)(57,0.755)(62,0.736)(63,0.736)(64,0.736)(65,0.736)(66,0.736)(70,0.708)(72,0.708)(75,0.696)(76,0.696)(78,0.696)(80,0.673)(81,0.673)(82,0.673)(85,0.673)(86,0.673)(87,0.673)(88,0.673)(89,0.673)(90,0.673)(91,0.673)(94,0.615)(95,0.615)(96,0.615)(97,0.615)(102,0.615)(104,0.615)(106,0.615)(110,0.615)(114,0.615)(120,0.615)(121,0.615)(122,0.615)(129,0.492)(133,0.492)(137,0.492)};
\addplot[cr] coordinates {(0,1)(0.9,0.98)(2.1,0.96)(2.9,0.94)(3.8,0.92)(4.9,0.90)(6.1,0.89)(7.2,0.875)(8.9,0.865)(10.1,0.85)(17.5,0.84)(18.6,0.83)(19.8,0.815)(20.9,0.809)(22.6,0.795)(24.3,0.784)(30,0.775)(31.8,0.757)(36.9,0.75)(39.2,0.738)(58.6,0.727)(60.9,0.72)(62.1,0.70)(67.2,0.665)(90.1,0.627)(108.9,0.556)(134.1,0.556)};
\addplot[cenR] coordinates {(12,0.85)(13,0.85)(14,0.85)(15,0.85)(16,0.85)(17,0.85)(25,0.784)(27,0.784)(28,0.784)(29,0.784)(32,0.757)(33,0.757)(35,0.757)(37,0.75)(38,0.75)(40,0.738)(41,0.738)(42,0.738)(43,0.738)(44,0.738)(45,0.738)(46,0.738)(47,0.738)(48,0.738)(49,0.738)(50,0.738)(51,0.738)(52,0.738)(53,0.738)(54,0.738)(55,0.738)(56,0.738)(57,0.738)(58,0.738)(60,0.727)(63,0.70)(65,0.70)(70,0.665)(72,0.665)(73,0.665)(75,0.665)(76,0.665)(80,0.665)(81,0.665)(82,0.665)(84,0.665)(86,0.665)(88,0.665)(94,0.627)(95,0.627)(96,0.627)(100,0.627)(102,0.627)(104,0.627)(108,0.627)(111,0.556)(113,0.556)(114,0.556)(117,0.556)(131,0.556)};
\kmdeco{H}{-35pt}{CBX8}{0.28}{1.2}{257}{255}{38.9}{39.6}
\end{axis}
\end{tikzpicture}
\end{document}
